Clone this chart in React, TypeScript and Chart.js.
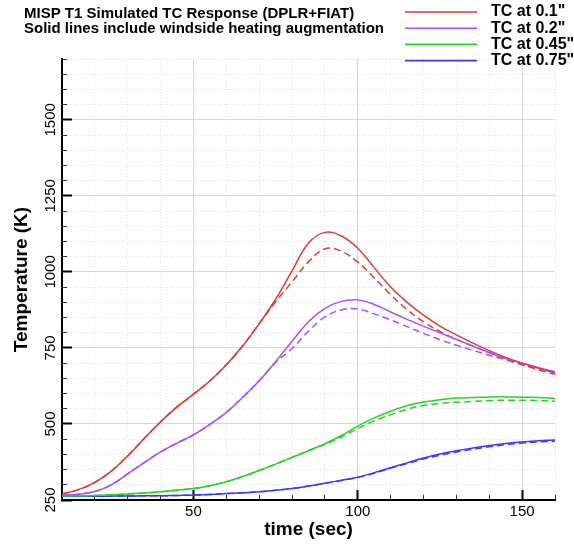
import { useEffect, useRef } from "react";
import { Chart, registerables } from "chart.js";

Chart.register(...registerables);

// ---- data ----
const times = [10, 15, 20, 25, 30, 35, 40, 45, 50, 55, 60, 65, 70, 75, 80, 85, 90, 95, 100, 105, 110, 115, 120, 125, 130, 135, 140, 145, 150, 155, 160];

const tc01Solid = [270, 284, 308, 345, 395, 452, 507, 556, 598, 642, 695, 757, 830, 910, 1003, 1095, 1130, 1118, 1078, 1014, 950, 900, 858, 822, 793, 766, 741, 719, 700, 683, 668];
const tc01Dashed = [270, 284, 308, 345, 395, 452, 507, 556, 598, 642, 695, 757, 830, 902, 967, 1033, 1076, 1068, 1032, 980, 925, 876, 836, 804, 778, 756, 734, 713, 695, 678, 663];

const tc02Solid = [266, 269, 278, 300, 336, 373, 408, 437, 464, 499, 538, 588, 642, 705, 772, 836, 880, 903, 908, 893, 868, 844, 821, 800, 778, 756, 735, 715, 700, 685, 672];
const tc02Dashed = [266, 269, 278, 300, 336, 373, 408, 437, 464, 499, 538, 588, 642, 702, 748, 805, 852, 875, 878, 862, 842, 820, 798, 777, 759, 742, 726, 711, 695, 682, 671];

const tc045Solid = [263, 263, 265, 267, 270, 273, 277, 282, 288, 297, 310, 327, 347, 368, 390, 412, 435, 462, 493, 520, 542, 560, 572, 580, 585, 587, 589, 589, 588, 587, 584];
const tc045Dashed = [263, 263, 265, 267, 270, 273, 277, 282, 288, 297, 310, 327, 347, 368, 390, 412, 433, 457, 485, 510, 530, 548, 561, 567, 571, 574, 577, 578, 578, 577, 575];

const tc075Solid = [262, 262, 262, 263, 263, 264, 264, 265, 266, 268, 271, 274, 277, 282, 288, 296, 305, 315, 325, 340, 356, 372, 388, 401, 412, 421, 429, 436, 441, 445, 447];
const tc075Dashed = [262, 262, 262, 263, 263, 264, 264, 265, 266, 268, 271, 274, 277, 282, 288, 296, 305, 314, 324, 338, 355, 370, 385, 397, 408, 417, 425, 432, 437, 441, 443];

const seriesLabels = ['TC at 0.1"', 'TC at 0.2"', 'TC at 0.45"', 'TC at 0.75"'];
const seriesColors = ["#e03a3a", "#a452ff", "#2ad12a", "#3a3aff"];

const xMajorTicks = [50, 100, 150];
const xMinorTicks = [10, 20, 30, 40, 60, 70, 80, 90, 110, 120, 130, 140, 160];
const yMajorTicks = [250, 500, 750, 1000, 1250, 1500];
const yMinorTicks = [300, 350, 400, 450, 550, 600, 650, 700, 800, 850, 900, 950, 1050, 1100, 1150, 1200, 1300, 1350, 1400, 1450, 1550, 1600, 1650, 1700];

const titleLines = ["MISP T1 Simulated TC Response (DPLR+FIAT)", "Solid lines include windside heating augmentation"];
const xTitle = "time (sec)";
const yTitle = "Temperature (K)";

const FONT = '"Liberation Sans", Arial, Helvetica, sans-serif';

function pts(vals: number[]) {
  return times.map((t, i) => ({ x: t, y: vals[i] }));
}

const headerPlugin = {
  id: "headerText",
  afterDraw(chart: any) {
    const ctx = chart.ctx as CanvasRenderingContext2D;
    ctx.save();
    ctx.fillStyle = "#000";
    ctx.textAlign = "left";
    ctx.textBaseline = "middle";
    ctx.font = `bold 15px ${FONT}`;
    titleLines.forEach((l, i) => ctx.fillText(l, 24, 14 + i * 15));
    const ds = chart.data.datasets.filter((d: any) => d.legendRow !== undefined);
    ds.forEach((d: any) => {
      const y = 12 + d.legendRow * 16.2;
      ctx.strokeStyle = d.borderColor;
      ctx.lineWidth = 1.6;
      ctx.setLineDash([]);
      ctx.beginPath();
      ctx.moveTo(405, y);
      ctx.lineTo(477, y);
      ctx.stroke();
      ctx.font = `bold 16px ${FONT}`;
      ctx.fillStyle = "#000";
      ctx.fillText(d.label, 491, y);
    });
    ctx.restore();
  },
};

export default function App() {
  const ref = useRef<HTMLCanvasElement>(null);

  useEffect(() => {
    if (!ref.current) return;
    Chart.defaults.font.family = FONT;
    const solids = [tc01Solid, tc02Solid, tc045Solid, tc075Solid];
    const dashes = [tc01Dashed, tc02Dashed, tc045Dashed, tc075Dashed];
    const datasets: any[] = [];
    solids.forEach((s, i) => {
      datasets.push({
        label: seriesLabels[i],
        legendRow: i,
        data: pts(s),
        borderColor: seriesColors[i],
        borderWidth: 1.5,
        pointRadius: 0,
        fill: false,
        tension: 0.4,
      });
    });
    dashes.forEach((s, i) => {
      datasets.push({
        label: seriesLabels[i] + " (no augmentation)",
        data: pts(s),
        borderColor: seriesColors[i],
        borderWidth: 1.5,
        borderDash: [7, 4],
        pointRadius: 0,
        fill: false,
        tension: 0.4,
      });
    });

    const chart = new Chart(ref.current, {
      type: "line",
      data: { datasets },
      plugins: [headerPlugin],
      options: {
        animation: false,
        responsive: false,
        devicePixelRatio: 1,
        layout: { padding: { top: 59, right: 19, left: 0, bottom: 0 } },
        plugins: { legend: { display: false }, tooltip: { enabled: false }, title: { display: false } },
        scales: {
          x: {
            type: "linear",
            position: "bottom",
            weight: 1,
            min: 10,
            max: 160,
            afterBuildTicks: (s: any) => { s.ticks = xMajorTicks.map((v) => ({ value: v })); },
            afterFit: (s: any) => { s.height = 44; },
            ticks: { callback: (v: any) => String(v), color: "#000", font: { size: 15 }, padding: 13, maxRotation: 0, minRotation: 0 },
            grid: { color: "#d6d6d6", lineWidth: 1, tickLength: -10, tickColor: "#000", tickWidth: 2 },
            border: { display: true, color: "#000", width: 2 },
            title: { display: true, text: xTitle, color: "#000", font: { size: 19, weight: "bold" }, padding: { top: 0, bottom: 3 } },
          },
          xMinor: {
            type: "linear",
            position: "bottom",
            weight: 0,
            min: 10,
            max: 160,
            afterBuildTicks: (s: any) => { s.ticks = xMinorTicks.map((v) => ({ value: v })); },
            afterFit: (s: any) => { s.height = 0; },
            ticks: { display: false },
            grid: { color: "#e4e4e4", lineWidth: 1, tickLength: -5, tickColor: "#333", tickWidth: 1 },
            border: { display: false, dash: [1, 2] },
          },
          y: {
            type: "linear",
            position: "left",
            weight: 1,
            min: 250,
            max: 1700,
            afterBuildTicks: (s: any) => { s.ticks = yMajorTicks.map((v) => ({ value: v })); },
            afterFit: (s: any) => { s.width = 62; },
            ticks: { callback: (v: any) => String(v), color: "#000", font: { size: 15 }, padding: 4, minRotation: 90, maxRotation: 90, crossAlign: "center" },
            grid: { color: "#d6d6d6", lineWidth: 1, tickLength: -10, tickColor: "#000", tickWidth: 2 },
            border: { display: true, color: "#000", width: 2 },
            title: { display: true, text: yTitle, color: "#000", font: { size: 19, weight: "bold" }, padding: { top: 10, bottom: 0 } },
          },
          yMinor: {
            type: "linear",
            position: "left",
            weight: 0,
            min: 250,
            max: 1700,
            afterBuildTicks: (s: any) => { s.ticks = yMinorTicks.map((v) => ({ value: v })); },
            afterFit: (s: any) => { s.width = 0; },
            ticks: { display: false },
            grid: { color: "#e4e4e4", lineWidth: 1, tickLength: -5, tickColor: "#333", tickWidth: 1 },
            border: { display: false, dash: [1, 2] },
          },
        },
      } as any,
    });
    return () => chart.destroy();
  }, []);

  return (
    <div style={{ position: "absolute", left: 0, top: 0, width: 574, height: 544, background: "#fff" }}>
      <canvas ref={ref} width={574} height={544} style={{ display: "block" }} />
    </div>
  );
}
